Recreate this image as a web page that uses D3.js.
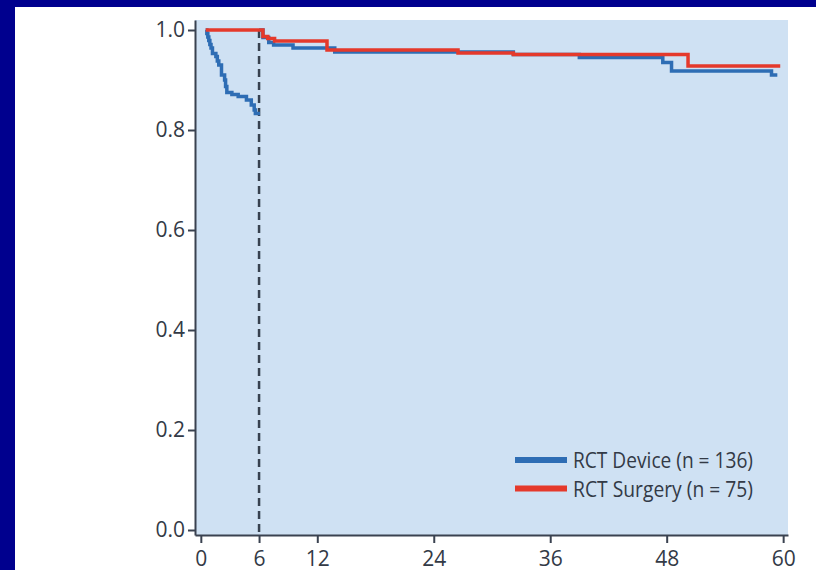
<!DOCTYPE html>
<html>
<head>
<meta charset="utf-8">
<script src="https://cdn.jsdelivr.net/npm/d3@7"></script>
<style>
  html, body { margin: 0; padding: 0; background: #000092; }
  svg { display: block; }
</style>
</head>
<body>
<svg id="chart" width="816" height="570"></svg>
<script>
// ---- data (months, survival proportion) ----
const xTicks = [0, 6, 12, 24, 36, 48, 60];
const yTicks = [0, 0.2, 0.4, 0.6, 0.8, 1.0];
const landmark = 6;

const deviceEarlyT = [0.5, 0.62, 0.72, 0.82, 0.93, 1.05, 1.2, 1.55, 1.7, 1.85, 2.13, 2.45, 2.55, 2.68, 3.2, 3.85, 4.7, 5.2, 5.5, 5.62, 6.1];
const deviceEarlyS = [1.0, 0.993, 0.986, 0.979, 0.971, 0.964, 0.953, 0.947, 0.938, 0.93, 0.91, 0.9, 0.887, 0.875, 0.871, 0.867, 0.86, 0.85, 0.84, 0.833, 0.833];

const deviceLateT = [6.0, 6.4, 7.0, 7.5, 9.5, 13.8, 32.2, 39.0, 47.6, 48.5, 58.8, 59.4];
const deviceLateS = [1.0, 0.985, 0.975, 0.97, 0.964, 0.956, 0.951, 0.945, 0.935, 0.918, 0.91, 0.91];

const surgeryT = [0.5, 6.4, 6.9, 7.6, 13.0, 26.5, 32.2, 50.2, 59.7];
const surgeryS = [1.0, 0.987, 0.983, 0.978, 0.96, 0.954, 0.951, 0.928, 0.928];

const legendLabels = ["RCT Device (n = 136)", "RCT Surgery (n = 75)"];
const seriesColors = ["#2e6db4", "#e5392b"];

// ---- drawing ----
const svg = d3.select("#chart");
const axisColor = "#3a4250";
const textColor = "#333a46";
const fontFam = '"Open Sans", "Noto Sans", sans-serif';

svg.append("rect").attr("x", 0).attr("y", 0).attr("width", 816).attr("height", 570).attr("fill", "#00008e");
svg.append("rect").attr("x", 15).attr("y", 7).attr("width", 801).attr("height", 563).attr("fill", "#ffffff");

const x = d3.scaleLinear().domain([-0.6, 60.5]).range([195, 788]);
const y = d3.scaleLinear().domain([-0.01, 1.02]).range([535, 20]);

svg.append("rect")
  .attr("x", x.range()[0]).attr("y", y.range()[1])
  .attr("width", x.range()[1] - x.range()[0])
  .attr("height", y.range()[0] - y.range()[1])
  .attr("fill", "#cfe1f3");

// dashed landmark line
svg.append("line")
  .attr("x1", x(landmark)).attr("x2", x(landmark))
  .attr("y1", y(1.0)).attr("y2", y.range()[0])
  .attr("stroke", "#37414f").attr("stroke-width", 2.5)
  .attr("stroke-dasharray", "8,5");

const line = d3.line().x(d => x(d[0])).y(d => y(d[1])).curve(d3.curveStepAfter);
const zip = (a, b) => a.map((v, i) => [v, b[i]]);

const series = [
  { pts: zip(deviceEarlyT, deviceEarlyS), color: seriesColors[0] },
  { pts: zip(deviceLateT, deviceLateS), color: seriesColors[0] },
  { pts: zip(surgeryT, surgeryS), color: seriesColors[1] }
];
svg.selectAll("path.km").data(series).enter().append("path")
  .attr("class", "km")
  .attr("d", d => line(d.pts))
  .attr("fill", "none")
  .attr("stroke", d => d.color)
  .attr("stroke-width", 3.5);

// axes
const yAxis = d3.axisLeft(y).tickValues(yTicks).tickFormat(d3.format(".1f")).tickSize(7).tickSizeOuter(0).tickPadding(3);
const gy = svg.append("g").attr("transform", `translate(${x.range()[0]},0)`).call(yAxis);
const xAxis = d3.axisBottom(x).tickValues(xTicks).tickFormat(d3.format("d")).tickSize(8).tickSizeOuter(0).tickPadding(8);
const gx = svg.append("g").attr("transform", `translate(0,${y.range()[0]})`).call(xAxis);

[gx, gy].forEach(g => {
  g.attr("font-family", fontFam).attr("font-size", 21);
  g.select(".domain").attr("stroke", axisColor).attr("stroke-width", 2);
  g.selectAll(".tick line").attr("stroke", axisColor).attr("stroke-width", 2);
  g.selectAll(".tick text").attr("fill", textColor).style("font-weight", 500);
});

// legend
const legend = svg.append("g");
legendLabels.forEach((lab, i) => {
  const ly = 460 + i * 28.5;
  legend.append("line")
    .attr("x1", 515).attr("x2", 567).attr("y1", ly).attr("y2", ly)
    .attr("stroke", seriesColors[i]).attr("stroke-width", 6);
  legend.append("text")
    .attr("x", 573).attr("y", ly + 8)
    .attr("fill", textColor)
    .attr("textLength", 180)
    .attr("lengthAdjust", "spacingAndGlyphs")
    .style("font-family", fontFam)
    .style("font-size", "21px")
    .text(lab);
});
</script>
</body>
</html>
